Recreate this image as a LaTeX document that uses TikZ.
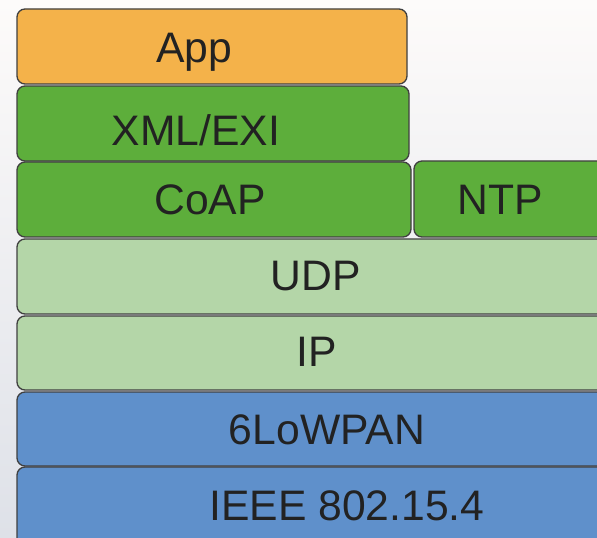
\documentclass[tikz,border=0pt]{standalone}
\usepackage{fontspec}
\setmainfont{Liberation Sans}
\definecolor{bgtop}{RGB}{253,251,250}
\definecolor{bgbot}{RGB}{222,225,232}
\definecolor{orangebox}{RGB}{244,178,74}
\definecolor{greenbox}{RGB}{93,174,59}
\definecolor{lightgreenbox}{RGB}{180,214,168}
\definecolor{bluebox}{RGB}{95,144,203}
\definecolor{edgegray}{RGB}{64,64,64}
\definecolor{txt}{RGB}{34,34,34}
\begin{document}
\begin{tikzpicture}[x=0.75pt,y=-0.75pt,
  layer/.style={draw=edgegray,line width=1pt,rounded corners=6pt},
  lbl/.style={text=txt,font=\fontsize{32}{36}\selectfont,inner sep=0pt,anchor=center}]
\useasboundingbox (0,0) rectangle (597,538);
\shade[top color=bgtop,bottom color=bgbot] (0,0) rectangle (597,538);
\begin{scope}
\clip (0,0) rectangle (597,538);
\draw[layer,fill=orangebox] (17,9) rectangle (407,84);
\draw[layer,fill=greenbox] (17,86) rectangle (409,161);
\draw[layer,fill=greenbox] (17,162) rectangle (411,237);
\draw[layer,fill=greenbox] (414,161) rectangle (630,237);
\draw[layer,fill=lightgreenbox] (17,239) rectangle (630,314);
\draw[layer,fill=lightgreenbox] (17,316) rectangle (630,390);
\draw[layer,fill=bluebox] (17,392) rectangle (630,466);
\draw[layer,fill=bluebox] (17,467) rectangle (630,570);
\end{scope}
\node[lbl] (app) at (194,52) {App};
\node[lbl] (xml) at (196,130) {XML/EXI};
\node[lbl] (coap) at (210,200) {CoAP};
\node[lbl] (ntp) at (500,200) {NTP};
\node[lbl] (udp) at (316,276) {UDP};
\node[lbl] (ip) at (317,352) {IP};
\node[lbl] (lowpan) at (327,430) {6LoWPAN};
\node[lbl] (ieee) at (347,506) {IEEE 802.15.4};
\end{tikzpicture}
\end{document}
